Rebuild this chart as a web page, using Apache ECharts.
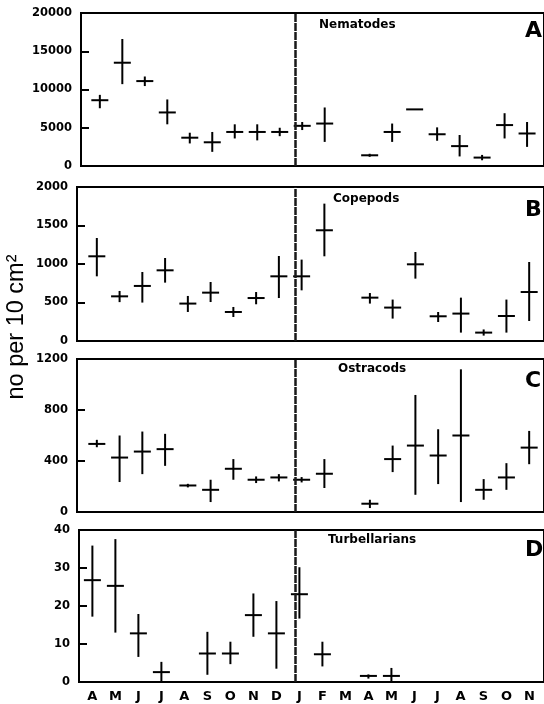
<!DOCTYPE html>
<html>
<head>
<meta charset="utf-8">
<script src="https://cdn.jsdelivr.net/npm/echarts@6.0.0/dist/echarts.min.js"></script>
<style>
  html, body { margin: 0; padding: 0; background: #fff; }
  #main { width: 544px; height: 704px; }
</style>
</head>
<body>
<div id="main"></div>
<script>
// months, April to November of the following year
var months = ['A', 'M', 'J', 'J', 'A', 'S', 'O', 'N', 'D', 'J', 'F', 'M', 'A', 'M', 'J', 'J', 'A', 'S', 'O', 'N'];

// Nematodes
var nemMean = [8600, 13500, 11100, 7000, 3700, 3100, 4450, 4450, 4450, 5250, 5550, null, 1400, 4450, 7400, 4150, 2600, 1100, 5350, 4250];
var nemHigh = [9300, 16600, 11700, 8700, 4350, 4450, 5450, 5450, 5000, 5750, 7650, null, 1600, 5550, 7450, 5050, 4050, 1450, 6900, 5750];
var nemLow  = [7550, 10700, 10450, 5450, 2950, 1850, 3600, 3350, 3900, 4700, 3150, null, 1200, 3150, 7350, 3300, 1250, 750, 3600, 2500];

// Copepods
var copMean = [1100, 580, 715, 918, 486, 628, 377, 558, 840, 840, 1438, null, 563, 434, 996, 321, 356, 109, 325, 636];
var copHigh = [1338, 650, 896, 1078, 585, 766, 442, 636, 1104, 1057, 1784, null, 623, 538, 1156, 377, 563, 150, 538, 1026];
var copLow  = [840, 505, 499, 758, 377, 506, 312, 477, 558, 658, 1100, null, 486, 291, 810, 247, 109, 70, 109, 260];

// Ostracods
var ostMean = [534, 427, 474, 493, 208, 174, 339, 253, 271, 253, 300, null, 65, 415, 521, 443, 600, 174, 271, 505];
var ostHigh = [566, 600, 631, 613, 221, 253, 415, 279, 297, 274, 415, null, 96, 521, 918, 649, 1119, 258, 383, 636];
var ostLow  = [508, 235, 297, 362, 193, 78, 253, 227, 240, 232, 188, null, 31, 313, 135, 219, 78, 96, 174, 375];

// Turbellarians
var turMean = [26.8, 25.3, 12.8, 2.6, null, 7.5, 7.5, 17.6, 12.8, 23.1, 7.3, null, 1.6, 1.6, null, null, null, null, null, null];
var turHigh = [35.9, 37.6, 17.9, 5.3, null, 13.2, 10.6, 23.3, 21.3, 30.2, 10.6, null, 2.0, 3.7, null, null, null, null, null, null];
var turLow  = [17.2, 13.0, 6.6, 0, null, 1.9, 4.7, 11.9, 3.5, 16.7, 4.1, null, 0.9, 0.2, null, null, null, null, null, null];

var yMax = [20000, 2000, 1200, 40];
var yStep = [5000, 500, 400, 10];

var panels = [
    {name: 'Nematodes', letter: 'A', mean: nemMean, high: nemHigh, low: nemLow},
    {name: 'Copepods', letter: 'B', mean: copMean, high: copHigh, low: copLow},
    {name: 'Ostracods', letter: 'C', mean: ostMean, high: ostHigh, low: ostLow},
    {name: 'Turbellarians', letter: 'D', mean: turMean, high: turHigh, low: turLow}
];

// layout of each panel: left edge, top, height, first month px, month spacing
var boxes = [
    {left: 81, top: 13, height: 153, first: 100, step: 22.68, titleX: 319, titleY: 27, letterY: 33},
    {left: 77, top: 187, height: 154, first: 97, step: 22.95, titleX: 333, titleY: 201, letterY: 212},
    {left: 77, top: 359, height: 153, first: 97, step: 22.95, titleX: 338, titleY: 371, letterY: 383},
    {left: 79, top: 530, height: 152, first: 92.5, step: 23.2, titleX: 328, titleY: 542, letterY: 552}
];
var rightEdge = 548, splitPx = 297;
var boldFont = '"DejaVu Sans", sans-serif';

function renderCross(params, api) {
    var c = api.coord([api.value(0), api.value(1)]);
    var lo = api.coord([api.value(0), api.value(2)]);
    var hi = api.coord([api.value(0), api.value(3)]);
    var st = {stroke: '#000', lineWidth: 2};
    return {
        type: 'group',
        children: [
            {type: 'line', shape: {x1: c[0] - 8.5, y1: c[1], x2: c[0] + 8.5, y2: c[1]}, style: st},
            {type: 'line', shape: {x1: hi[0], y1: hi[1], x2: lo[0], y2: lo[1]}, style: st}
        ]
    };
}

var grids = [], xAxes = [], yAxes = [], series = [], graphics = [];
panels.forEach(function (p, i) {
    var b = boxes[i];
    var isLast = i === panels.length - 1;
    grids.push({
        left: b.left, top: b.top, width: rightEdge - b.left, height: b.height,
        show: true, borderColor: '#000', borderWidth: 2
    });
    xAxes.push({
        type: 'value', gridIndex: i, position: 'bottom',
        min: -(b.first - b.left) / b.step,
        max: (rightEdge - b.first) / b.step,
        axisLine: {show: false, onZero: false}, axisTick: {show: false}, splitLine: {show: false},
        axisLabel: {
            show: isLast,
            customValues: months.map(function (m, k) { return k; }),
            formatter: function (v) { return months[Math.round(v)] || ''; },
            fontFamily: boldFont, fontWeight: 'bold', fontSize: 13, color: '#000', margin: 8
        }
    });
    yAxes.push({
        type: 'value', gridIndex: i, position: 'left', min: 0, max: yMax[i], interval: yStep[i],
        axisLine: {show: false, onZero: false}, splitLine: {show: false},
        axisTick: {show: true, inside: true, length: 8, lineStyle: {color: '#000', width: 2}},
        axisLabel: {
            formatter: function (v) { return String(v); },
            fontFamily: boldFont, fontWeight: 'bold', fontSize: 11.5, color: '#000', margin: 9
        }
    });
    var data = [];
    p.mean.forEach(function (m, k) {
        if (m !== null) data.push([k, m, p.low[k], p.high[k]]);
    });
    series.push({
        type: 'custom', xAxisIndex: i, yAxisIndex: i,
        renderItem: renderCross, data: data, silent: true,
        markLine: {
            silent: true, symbol: 'none', label: {show: false},
            lineStyle: {color: '#1a1a1a', width: 2.5, type: [8, 1]},
            data: [{xAxis: (splitPx - b.first) / b.step}]
        }
    });
    graphics.push({
        type: 'text', left: b.titleX, top: b.titleY - 8,
        style: {text: p.name, font: 'bold 12px ' + boldFont, fill: '#000'}
    });
    graphics.push({
        type: 'text', left: 525, top: b.letterY - 13,
        style: {text: p.letter, font: 'bold 22px ' + boldFont, fill: '#000'}
    });
});

// shared y axis title
graphics.push({
    type: 'text', x: 17, y: 327, rotation: Math.PI / 2,
    style: {
        text: 'no per 10 cm²', font: '23.5px "Liberation Sans", Arial, sans-serif',
        fill: '#000', align: 'center', verticalAlign: 'middle'
    }
});

var chart = echarts.init(document.getElementById('main'));
chart.setOption({
    animation: false,
    backgroundColor: '#fff',
    grid: grids,
    xAxis: xAxes,
    yAxis: yAxes,
    series: series,
    graphic: graphics
});
</script>
</body>
</html>
